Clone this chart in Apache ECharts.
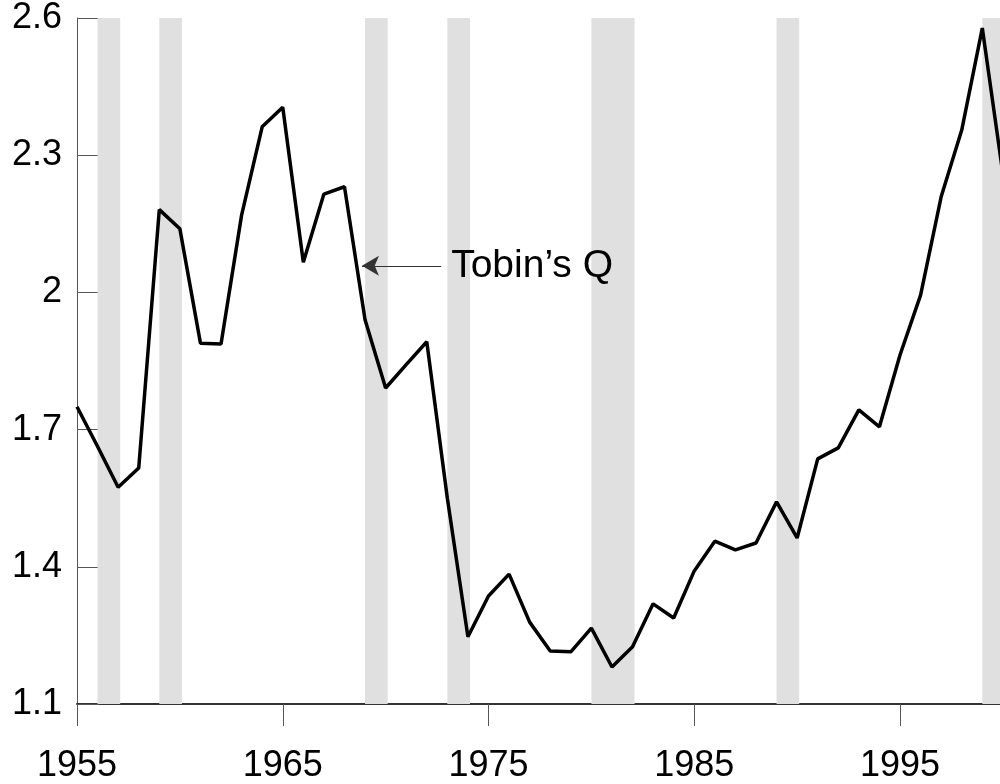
<!DOCTYPE html>
<html>
<head>
<meta charset="utf-8">
<script src="https://cdn.jsdelivr.net/npm/echarts@6/dist/echarts.min.js"></script>
<style>
  html, body { margin: 0; padding: 0; background: #fff; }
  #main { width: 1000px; height: 784px; }
</style>
</head>
<body>
<div id="main"></div>
<script>
// annual years and Tobin's Q values
var years = [1955, 1956, 1957, 1958, 1959, 1960, 1961, 1962, 1963, 1964,
             1965, 1966, 1967, 1968, 1969, 1970, 1971, 1972, 1973, 1974,
             1975, 1976, 1977, 1978, 1979, 1980, 1981, 1982, 1983, 1984,
             1985, 1986, 1987, 1988, 1989, 1990, 1991, 1992, 1993, 1994,
             1995, 1996, 1997, 1998, 1999, 2000];
var tobinQ = [1.750, 1.663, 1.574, 1.616, 2.181, 2.139, 1.889, 1.887, 2.169, 2.362,
              2.405, 2.066, 2.215, 2.231, 1.940, 1.791, 1.842, 1.892, 1.550, 1.247,
              1.336, 1.384, 1.279, 1.216, 1.214, 1.266, 1.181, 1.225, 1.319, 1.288,
              1.391, 1.456, 1.437, 1.452, 1.542, 1.463, 1.636, 1.660, 1.743, 1.706,
              1.863, 1.994, 2.209, 2.355, 2.578, 2.259];

// recession periods (shaded), start / end
var recessionStart = [1956, 1959, 1969, 1973, 1980, 1989, 1999];
var recessionEnd   = [1957.1, 1960.1, 1970.1, 1974.1, 1982.1, 1990.1, 2000.1];

// tick labels
var xTicks = [1955, 1965, 1975, 1985, 1995];
var yTicks = [1.1, 1.4, 1.7, 2, 2.3, 2.6];

var FONT = "'Liberation Sans', Arial, sans-serif";

var seriesData = [];
for (var i = 0; i < years.length; i++) {
    seriesData.push([years[i], tobinQ[i]]);
}

var areaData = [];
for (var j = 0; j < recessionStart.length; j++) {
    areaData.push([
        { xAxis: recessionStart[j], yAxis: 2.6 },
        { xAxis: recessionEnd[j], yAxis: 1.093 }
    ]);
}

var myChart = echarts.init(document.getElementById('main'));
var option = {
    animation: false,
    backgroundColor: '#fff',
    grid: { left: 77, top: 18, right: 0, bottom: 80, containLabel: false },
    xAxis: {
        type: 'value',
        min: 1955,
        max: 1999.86,   // the original picture is cut off just before 2000
        splitLine: { show: false },
        axisLine: { show: true, lineStyle: { color: '#333', width: 2 } },
        axisTick: { show: true, customValues: xTicks, length: 22, inside: false,
                    lineStyle: { color: '#555', width: 1 } },
        axisLabel: { customValues: xTicks, margin: 44, fontSize: 36, color: '#000',
                     fontFamily: FONT, formatter: function (v) { return String(v); } }
    },
    yAxis: {
        type: 'value',
        min: 1.1,
        max: 2.6,
        splitLine: { show: false },
        axisLine: { show: true, lineStyle: { color: '#555', width: 1 } },
        axisTick: { show: true, customValues: yTicks, length: 22, inside: true,
                    lineStyle: { color: '#555', width: 1 } },
        axisLabel: { customValues: yTicks, margin: 15, fontSize: 36, color: '#000',
                     fontFamily: FONT, formatter: function (v) { return String(+v.toFixed(1)); } }
    },
    series: [
        {
            name: 'recessions',
            type: 'line',
            data: [],
            z: 1,
            clip: false,
            silent: true,
            markArea: {
                silent: true,
                itemStyle: { color: '#e0e0e0' },
                data: areaData
            }
        },
        {
            name: "Tobin’s Q",
            type: 'line',
            data: seriesData,
            z: 3,
            symbol: 'none',
            lineStyle: { color: '#000', width: 3.5 },
            markLine: {
                silent: true,
                symbol: ['none', 'arrow'],
                symbolSize: [15, 17],
                lineStyle: { color: '#333', width: 1, type: 'solid' },
                label: {
                    show: true,
                    position: 'start',
                    distance: 10,
                    formatter: 'Tobin’s Q',
                    fontSize: 39,
                    color: '#000',
                    fontFamily: FONT
                },
                data: [[{ coord: [1972.7, 2.058] }, { coord: [1968.85, 2.058] }]]
            }
        }
    ]
};
myChart.setOption(option);
window.onresize = myChart.resize;
</script>
</body>
</html>
